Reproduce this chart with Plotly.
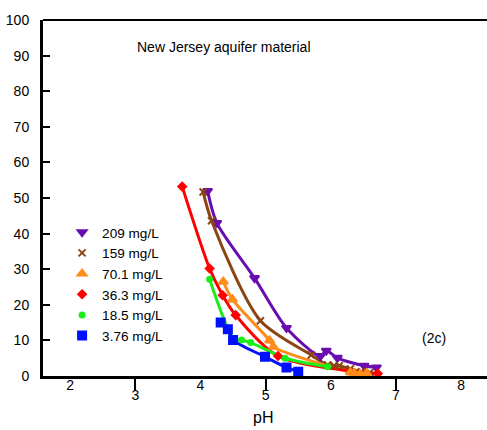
import plotly.graph_objects as go

FONT = "Liberation Sans, Arial, sans-serif"

series_names = ["209 mg/L", "159 mg/L", "70.1 mg/L", "36.3 mg/L", "18.5 mg/L", "3.76 mg/L"]
series_colors = ["#6a0daf", "#8b4513", "#ff8c1a", "#ff0000", "#1aee1a", "#0010ff"]
series_symbols = ["triangle-down", "x-thin-open", "triangle-up", "diamond", "circle", "square"]
series_sizes = [8, 7, 8, 6, 5, 8]

ph_209 = [4.11, 4.25, 4.83, 5.32, 5.84, 5.93, 6.10, 6.51, 6.70]
v_209 = [52.0, 43.0, 27.5, 13.5, 5.6, 7.1, 5.1, 2.9, 2.4]

ph_159 = [4.04, 4.17, 4.92, 5.70, 5.95, 6.05, 6.13, 6.30, 6.47, 6.60]
v_159 = [51.7, 43.6, 15.5, 5.9, 3.1, 2.9, 2.9, 2.0, 1.2, 1.0]

ph_701 = [4.35, 4.49, 5.06, 5.12, 6.30, 6.36, 6.45, 6.55]
v_701 = [26.5, 21.5, 10.0, 8.2, 1.0, 0.8, 0.6, 0.8]

ph_363 = [3.72, 4.14, 4.34, 4.54, 5.19, 6.72]
v_363 = [53.2, 30.2, 22.7, 17.1, 5.6, 0.7]

ph_185 = [4.14, 4.51, 4.63, 4.77, 5.30, 5.95]
v_185 = [27.2, 10.6, 10.1, 9.4, 5.0, 2.6]

ph_376 = [4.31, 4.42, 4.50, 4.99, 5.32, 5.50]
v_376 = [15.0, 13.1, 10.1, 5.4, 2.4, 1.2]

series_x = [ph_209, ph_159, ph_701, ph_363, ph_185, ph_376]
series_y = [v_209, v_159, v_701, v_363, v_185, v_376]

y_ticks = [0, 10, 20, 30, 40, 50, 60, 70, 80, 90, 100]
x_ticks_low = [3, 5, 7]
x_ticks_high = [2, 4, 6, 8]

fig = go.Figure()

for name, col, sym, sz, xs, ys in zip(series_names, series_colors, series_symbols,
                                       series_sizes, series_x, series_y):
    fig.add_trace(go.Scatter(x=xs, y=ys, mode="lines", showlegend=False,
                             line=dict(color=col, width=3, shape="spline", smoothing=0.8),
                             hoverinfo="skip"))
for name, col, sym, sz, xs, ys in zip(series_names, series_colors, series_symbols,
                                       series_sizes, series_x, series_y):
    fig.add_trace(go.Scatter(x=xs, y=ys, mode="markers", name=name,
                             marker=dict(color=col, symbol=sym, size=sz,
                                         line=dict(color=col, width=2))))

fig.add_trace(go.Scatter(x=[None], y=[None], xaxis="x2", showlegend=False))

fig.update_layout(
    width=487, height=430,
    margin=dict(l=43, r=0, t=20, b=54),
    plot_bgcolor="white", paper_bgcolor="white",
    font=dict(family=FONT, size=14, color="black"),
    xaxis=dict(range=[1.584, 8.396], tickvals=x_ticks_low, ticks="outside", ticklen=12,
               tickwidth=2, tickcolor="black", showgrid=False, zeroline=False,
               showline=True, linewidth=3, linecolor="black",
               tickfont=dict(size=14), ticklabelstandoff=-8),
    xaxis2=dict(range=[1.584, 8.396], overlaying="x", anchor="y", side="bottom",
                tickvals=x_ticks_high, ticks="", showgrid=False, zeroline=False,
                showline=False, tickfont=dict(size=14), ticklabelstandoff=-1),
    yaxis=dict(range=[0, 100], tickvals=y_ticks, ticks="inside", ticklen=7, tickwidth=2,
               tickcolor="black", showgrid=False, zeroline=False, showline=True,
               linewidth=3, linecolor="black", tickfont=dict(size=14), ticklabelstandoff=8),
    legend=dict(x=0.043, y=0.447, xanchor="left", yanchor="top", bgcolor="rgba(0,0,0,0)",
                font=dict(size=13.6), tracegroupgap=0, itemwidth=30),
    shapes=[dict(type="line", xref="paper", yref="paper", x0=0, x1=1, y0=1, y1=1,
                 line=dict(color="black", width=2))],
    annotations=[
        dict(text="New Jersey aquifer material", xref="paper", yref="paper",
             x=(135 - 43) / 444, y=(376 - 47) / 356, xanchor="left", yanchor="middle",
             showarrow=False, font=dict(size=14)),
        dict(text="(2c)", xref="paper", yref="paper",
             x=(420 - 43) / 444, y=(376 - 338) / 356, xanchor="left", yanchor="middle",
             showarrow=False, font=dict(size=14)),
        dict(text="pH", xref="paper", yref="paper",
             x=(263 - 43) / 444, y=-(417 - 376) / 356, xanchor="center", yanchor="middle",
             showarrow=False, font=dict(size=16)),
    ],
)

fig.write_html("out.html")
